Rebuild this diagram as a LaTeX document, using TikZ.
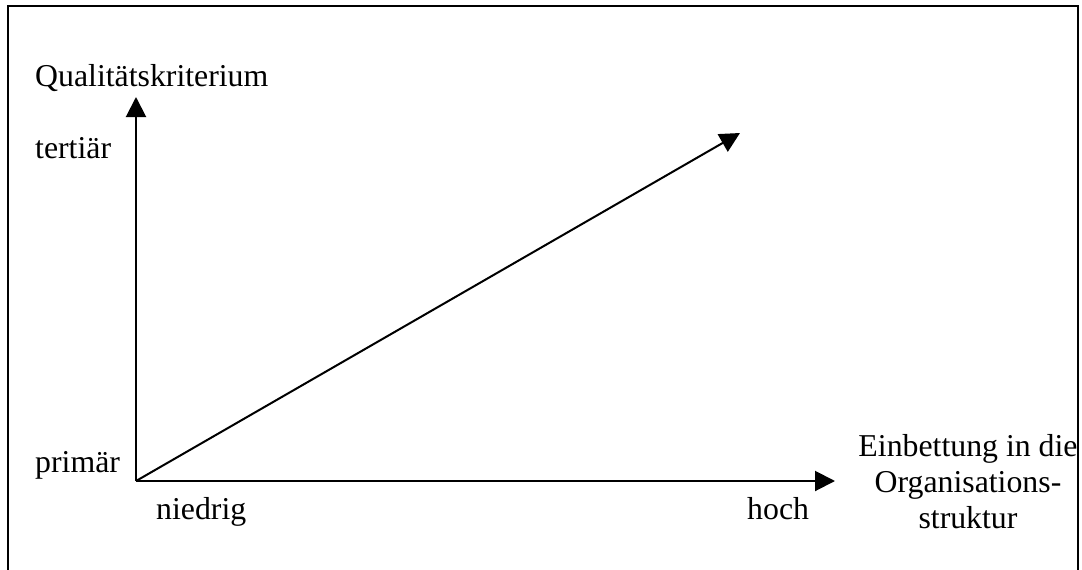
\documentclass[tikz,border=0pt]{standalone}
\usepackage{fontspec}
\setmainfont{Liberation Serif}
\usetikzlibrary{arrows.meta}
\begin{document}
\begin{tikzpicture}[x=1pt,y=-1pt,
  lbl/.style={inner sep=0pt,anchor=base west,font=\fontsize{31.8}{36}\selectfont},
  axis/.style={line width=2pt,-{Triangle[length=20pt,width=20pt]}}]
\useasboundingbox (0,0) rectangle (1082,570);
\fill[white] (0,0) rectangle (1082,570);
\draw[line width=2pt] (8,580) -- (8,6) -- (1078,6) -- (1078,580);
\coordinate (O) at (136,481);
\coordinate (Y) at (136,97);
\coordinate (X) at (835,481);
\coordinate (D) at (740,133);
\draw[axis] (O) -- (Y);
\draw[axis] (O) -- (X);
\draw[axis] (O) -- (D);
\node[lbl] (q) at (35,86) {Qualitätskriterium};
\node[lbl] (t) at (35,158) {tertiär};
\node[lbl] (p) at (35,472) {primär};
\node[lbl] (n) at (156,519) {niedrig};
\node[lbl] (h) at (747,519) {hoch};
\node[inner sep=0pt,anchor=base,font=\fontsize{31.8}{36}\selectfont,align=center] (e) at (968,528) {Einbettung in die\\Organisations-\\struktur};
\end{tikzpicture}
\end{document}
